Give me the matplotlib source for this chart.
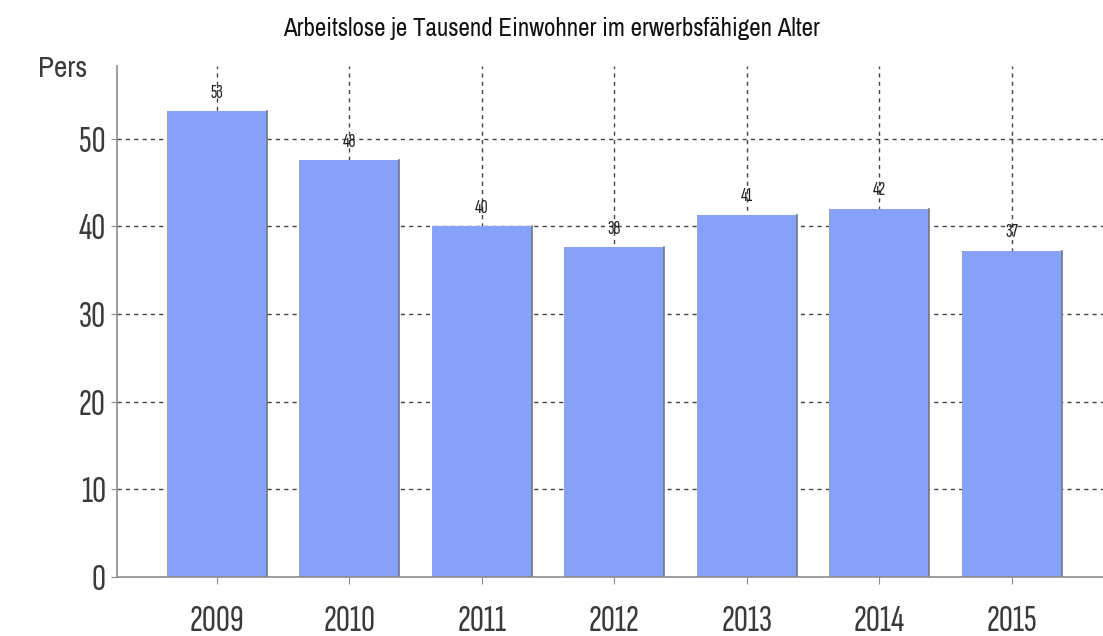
import matplotlib
matplotlib.use("Agg")
import matplotlib.pyplot as plt

plt.rcParams['font.family'] = ['Archivo Narrow', 'Liberation Sans', 'DejaVu Sans']
tick_font = ['Sofia Sans Extra Condensed', 'Archivo Narrow', 'DejaVu Sans']

years = ["2009", "2010", "2011", "2012", "2013", "2014", "2015"]
values = [53.1, 47.5, 40.0, 37.6, 41.3, 42.0, 37.2]
labels = ["53", "48", "40", "38", "41", "42", "37"]
y_ticks = [0, 10, 20, 30, 40, 50]

bar_color = "#87a1f7"
text_color = "#3a3a3a"
axis_color = "#8c8c8c"

fig = plt.figure(figsize=(11.03, 6.36), dpi=100)
ax = fig.add_axes([0.106, 0.093, 0.894, 0.8035])

x = list(range(len(years)))
ax.bar(x, values, width=0.755, color=bar_color, edgecolor="none", zorder=2)
# thin dark shadow on right side of each bar
for xi, v in zip(x, values):
    ax.plot([xi + 0.3775, xi + 0.3775], [0, v], color="#777777", lw=1.2, zorder=2.5)

for xi, v, lab in zip(x, values, labels):
    ax.text(xi, v + 1.1, lab, ha="center", va="bottom", fontsize=14,
            family=tick_font, color="#222222", zorder=3)

ax.set_xlim(-0.755, 6.69)
ax.set_ylim(0, 58.3)
ax.set_xticks(x)
ax.set_xticklabels(years, fontsize=28, color=text_color, family=tick_font, fontweight="light")
ax.set_yticks(y_ticks)
ax.set_yticklabels([str(t) for t in y_ticks], fontsize=28, color=text_color,
                   family=tick_font, fontweight="light")

ax.grid(True, axis="both", linestyle=(0, (3, 3)), color="#444444", lw=1.0, zorder=0)
ax.set_axisbelow(True)
# no grid line at y=0
ax.yaxis.get_gridlines()[0].set_visible(False)

for side in ["top", "right"]:
    ax.spines[side].set_visible(False)
for side in ["left", "bottom"]:
    ax.spines[side].set_color(axis_color)
    ax.spines[side].set_linewidth(1.2)

ax.tick_params(axis="x", length=5, color=axis_color, pad=15)
ax.tick_params(axis="y", length=4, color=axis_color, pad=4)

fig.text(0.5, 0.955, "Arbeitslose je Tausend Einwohner im erwerbsfähigen Alter",
         ha="center", va="center", fontsize=18, color="#111111")
fig.text(0.034, 0.893, "Pers", ha="left", va="center", fontsize=21, color=text_color)

fig.savefig("out.png", dpi=100, facecolor="white")
